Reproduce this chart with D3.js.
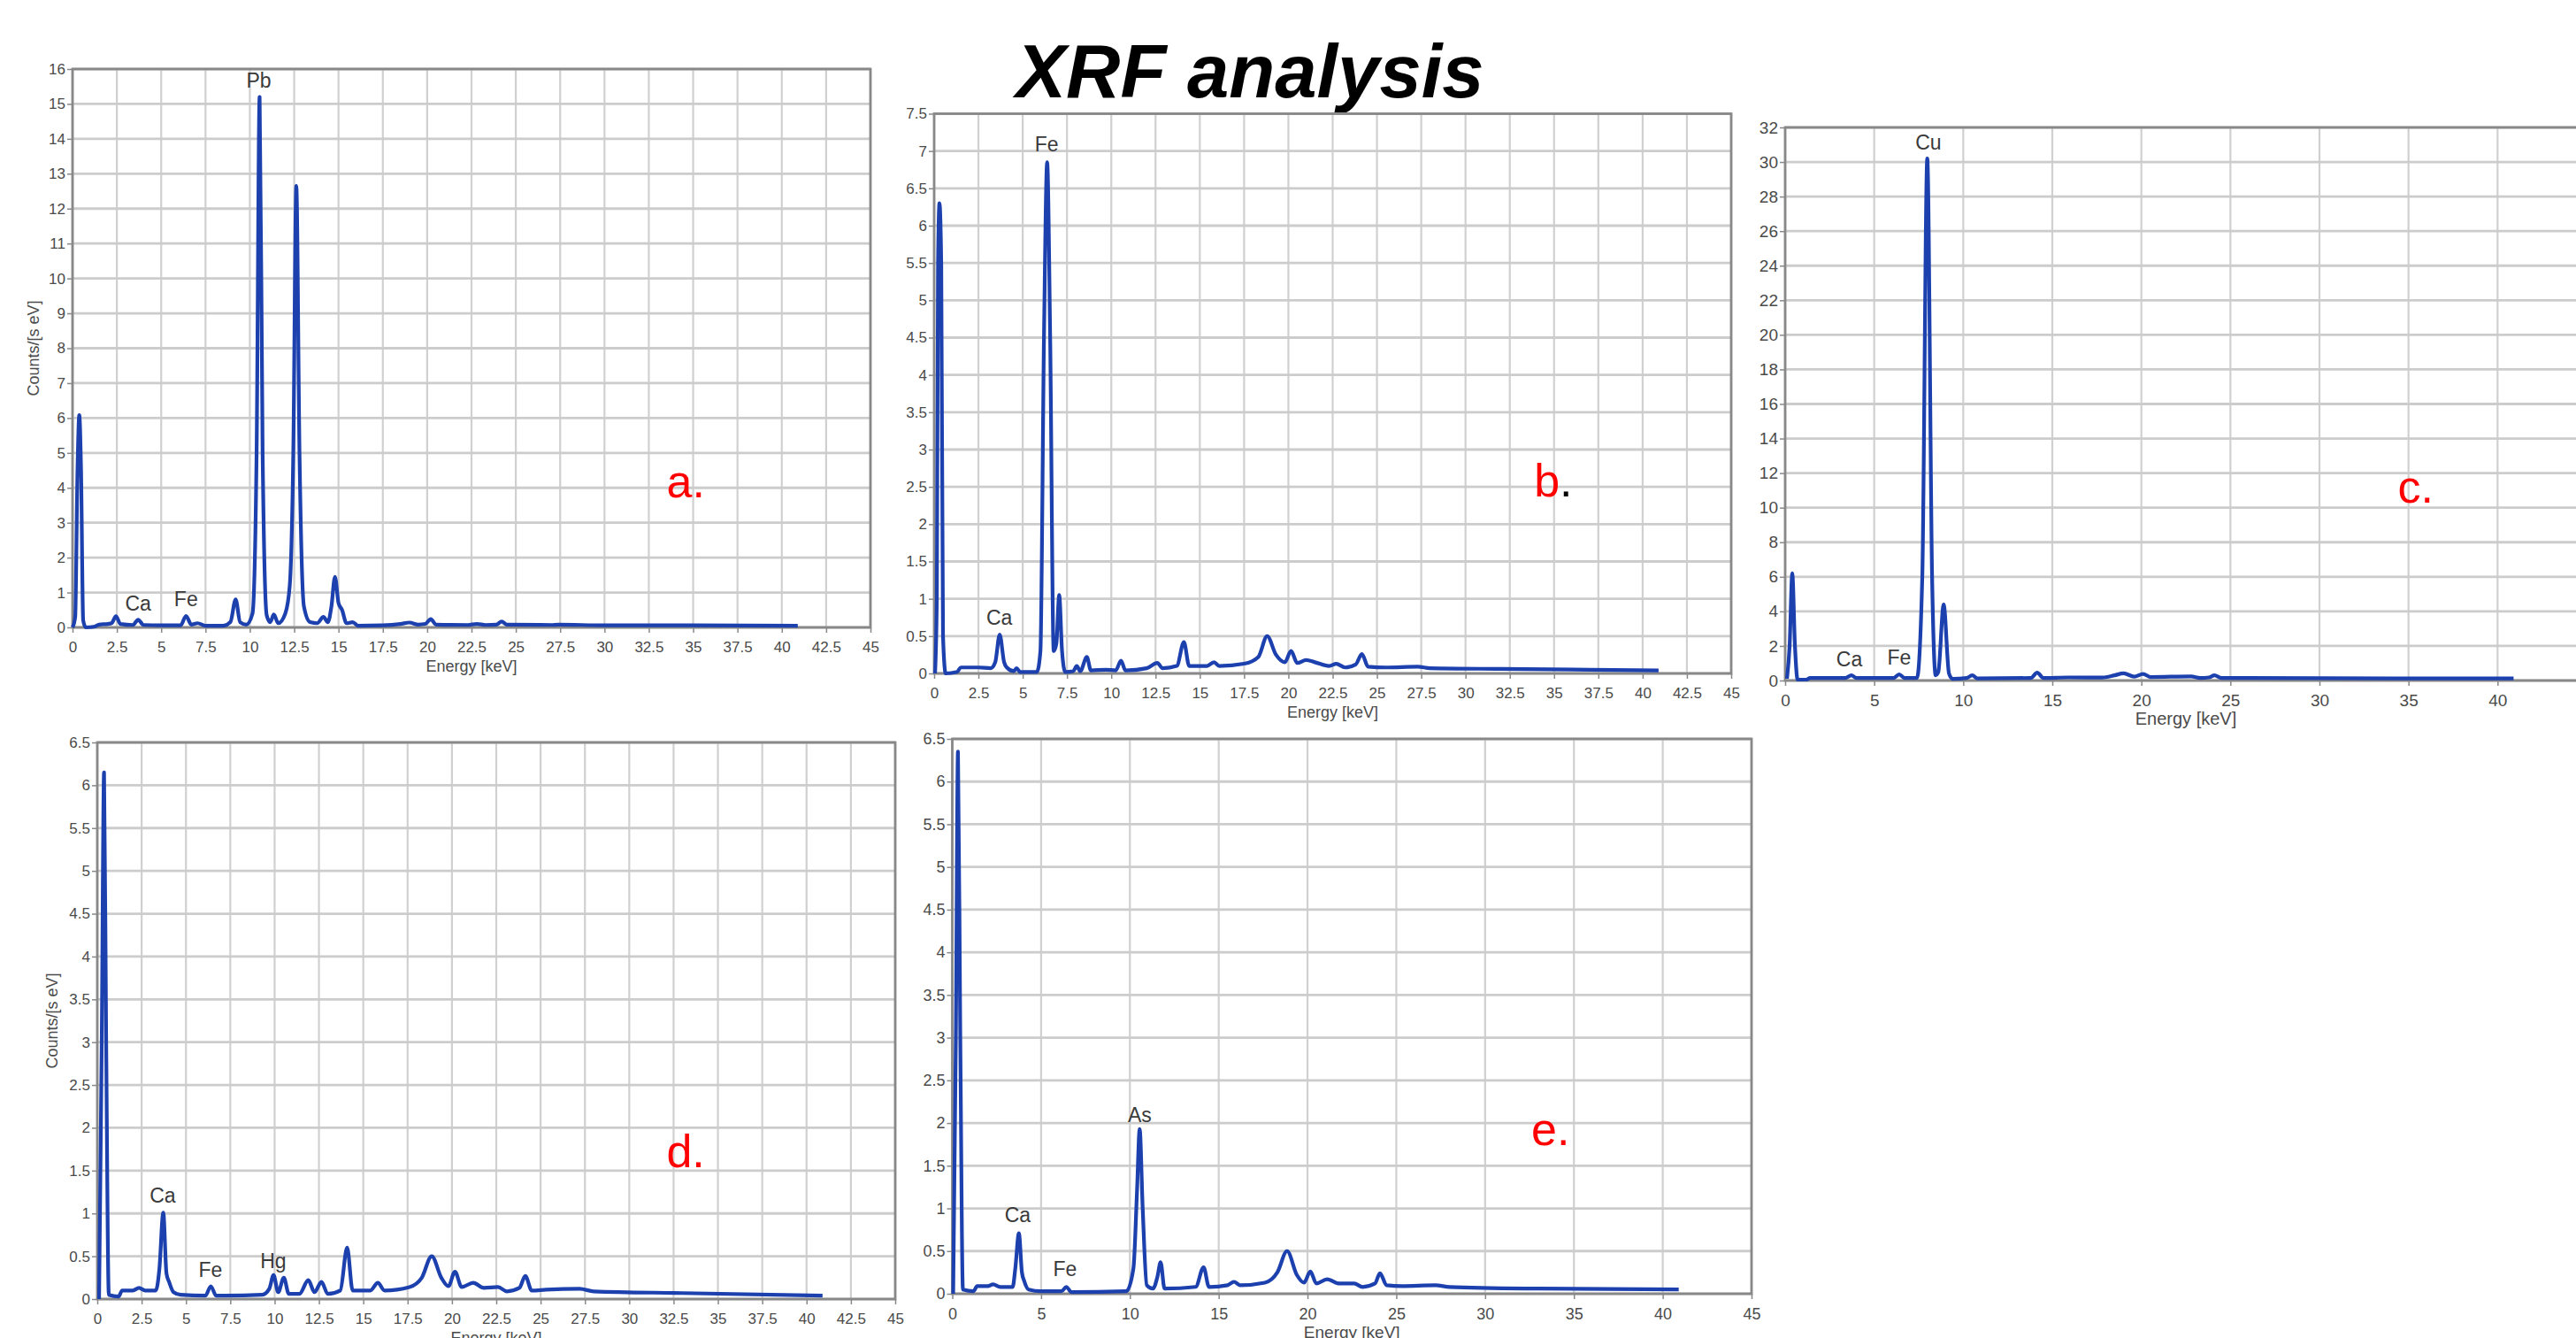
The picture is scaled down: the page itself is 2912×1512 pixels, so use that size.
<!DOCTYPE html>
<html>
<head>
<meta charset="utf-8">
<script src="https://cdnjs.cloudflare.com/ajax/libs/d3/7.8.5/d3.min.js"></script>
<style>
  html, body { margin: 0; padding: 0; background: #fff; }
  svg { display: block; }
  text { font-family: "Liberation Sans", Arial, sans-serif; }
</style>
</head>
<body>
<svg id="chart" width="2912" height="1512"></svg>
<script>
// tick values
const xTicksFine = [0, 2.5, 5, 7.5, 10, 12.5, 15, 17.5, 20, 22.5, 25, 27.5, 30, 32.5, 35, 37.5, 40, 42.5, 45];
const xTicksCoarse = [0, 5, 10, 15, 20, 25, 30, 35, 40, 45];
const yTicksA = [0, 1, 2, 3, 4, 5, 6, 7, 8, 9, 10, 11, 12, 13, 14, 15, 16];
const yTicksB = [0, 0.5, 1, 1.5, 2, 2.5, 3, 3.5, 4, 4.5, 5, 5.5, 6, 6.5, 7, 7.5];
const yTicksC = [0, 2, 4, 6, 8, 10, 12, 14, 16, 18, 20, 22, 24, 26, 28, 30, 32];
const yTicksDE = [0, 0.5, 1, 1.5, 2, 2.5, 3, 3.5, 4, 4.5, 5, 5.5, 6, 6.5];

// spectra, [energy keV, counts/(s eV)]
const spectrumA = [
  [0.0, 0], [0.15, 0.3], [0.28, 4.5], [0.38, 6.08], [0.48, 4.5], [0.6, 0.2], [0.75, 0], [1.2, 0.02],
  [1.5, 0.08], [2.0, 0.1], [2.2, 0.12], [2.45, 0.32], [2.7, 0.1], [3.4, 0.07], [3.7, 0.22], [4.0, 0.07],
  [5.0, 0.06], [6.1, 0.06], [6.4, 0.33], [6.7, 0.08], [7.05, 0.12], [7.5, 0.05], [8.5, 0.05],
  [8.9, 0.15], [9.2, 0.8], [9.45, 0.15], [9.8, 0.08], [10.15, 0.4], [10.38, 5], [10.55, 15.2],
  [10.72, 5], [10.95, 0.35], [11.15, 0.15], [11.35, 0.37], [11.6, 0.12], [12.0, 0.4], [12.25, 1.2],
  [12.45, 5], [12.62, 12.65], [12.8, 5], [13.05, 0.6], [13.4, 0.15], [13.8, 0.12], [14.15, 0.3],
  [14.4, 0.15], [14.6, 0.6], [14.8, 1.45], [15.0, 0.7], [15.2, 0.5], [15.45, 0.12], [15.8, 0.15],
  [16.1, 0.05], [17.5, 0.06], [18.5, 0.1], [19.0, 0.14], [19.5, 0.08], [19.9, 0.1], [20.2, 0.24],
  [20.5, 0.08], [22.3, 0.07], [22.8, 0.1], [23.3, 0.07], [23.9, 0.08], [24.2, 0.17], [24.5, 0.08],
  [27.0, 0.07], [27.4, 0.08], [30, 0.06], [35, 0.06], [40.9, 0.05]
];
const spectrumB = [
  [0.05, 0], [0.15, 1], [0.22, 5.5], [0.3, 6.3], [0.4, 5.5], [0.5, 0.5], [0.65, 0], [1.3, 0.02],
  [1.5, 0.08], [2.5, 0.08], [3.2, 0.07], [3.45, 0.15], [3.7, 0.52], [3.95, 0.15], [4.1, 0.08],
  [4.5, 0.03], [4.65, 0.07], [4.85, 0.02], [5.8, 0.02], [6.0, 0.3], [6.2, 4.5], [6.38, 6.85],
  [6.55, 4.5], [6.75, 0.3], [6.9, 0.4], [7.06, 1.05], [7.22, 0.3], [7.4, 0.02], [7.85, 0.03],
  [8.05, 0.1], [8.25, 0.03], [8.62, 0.22], [8.85, 0.04], [9.7, 0.05], [10.25, 0.04], [10.55, 0.17],
  [10.8, 0.04], [12.0, 0.07], [12.6, 0.14], [12.9, 0.07], [13.7, 0.1], [14.1, 0.42], [14.4, 0.1],
  [15.4, 0.1], [15.8, 0.15], [16.1, 0.1], [17.5, 0.13], [18.3, 0.22], [18.8, 0.5], [19.3, 0.25],
  [19.8, 0.15], [20.15, 0.3], [20.5, 0.14], [21.0, 0.18], [21.5, 0.15], [22.3, 0.1], [22.7, 0.13],
  [23.2, 0.08], [23.8, 0.12], [24.15, 0.26], [24.5, 0.09], [25.5, 0.08], [27.3, 0.09], [28, 0.07],
  [32, 0.06], [37, 0.05], [40.9, 0.04]
];
const spectrumC = [
  [0.1, 0.1], [0.25, 2], [0.4, 6.2], [0.55, 2], [0.7, 0.05], [1.2, 0.05], [1.4, 0.15], [3.4, 0.15],
  [3.72, 0.3], [4.0, 0.15], [6.1, 0.15], [6.4, 0.35], [6.7, 0.15], [7.4, 0.15], [7.7, 6],
  [7.98, 30.2], [8.25, 6], [8.45, 0.3], [8.6, 0.5], [8.9, 4.4], [9.2, 0.4], [9.4, 0.1], [10.2, 0.15],
  [10.5, 0.3], [10.8, 0.12], [13.8, 0.15], [14.15, 0.45], [14.5, 0.15], [15.9, 0.18], [17.8, 0.17],
  [18.5, 0.3], [19.0, 0.42], [19.6, 0.22], [20.1, 0.38], [20.5, 0.2], [22.8, 0.24], [23.3, 0.15],
  [23.8, 0.18], [24.1, 0.3], [24.5, 0.15], [30, 0.13], [40.9, 0.12]
];
const spectrumD = [
  [0.1, 0], [0.25, 3], [0.38, 6.15], [0.5, 3], [0.65, 0.05], [1.2, 0.03], [1.4, 0.1], [2.0, 0.1],
  [2.35, 0.13], [2.7, 0.1], [3.3, 0.1], [3.5, 0.35], [3.72, 1.01], [3.9, 0.3], [4.05, 0.2],
  [4.3, 0.08], [4.7, 0.05], [6.1, 0.04], [6.4, 0.15], [6.7, 0.04], [9.3, 0.05], [9.7, 0.12],
  [9.94, 0.28], [10.2, 0.08], [10.52, 0.25], [10.8, 0.06], [11.4, 0.06], [11.9, 0.22], [12.25, 0.08],
  [12.64, 0.2], [13.0, 0.06], [13.7, 0.1], [14.09, 0.6], [14.4, 0.1], [15.4, 0.1], [15.82, 0.19],
  [16.2, 0.1], [17.6, 0.14], [18.3, 0.25], [18.86, 0.5], [19.4, 0.25], [19.8, 0.15], [20.17, 0.32],
  [20.55, 0.14], [21.2, 0.19], [21.8, 0.13], [22.6, 0.14], [23.1, 0.09], [23.8, 0.13], [24.14, 0.27],
  [24.5, 0.1], [25.3, 0.11], [27.2, 0.12], [28.0, 0.09], [33, 0.07], [40.9, 0.04]
];
const spectrumE = [
  [0.05, 0], [0.2, 3], [0.32, 6.35], [0.45, 3], [0.6, 0.05], [1.2, 0.03], [1.4, 0.09], [2.0, 0.09],
  [2.3, 0.11], [2.7, 0.08], [3.4, 0.08], [3.55, 0.3], [3.75, 0.71], [3.92, 0.25], [4.05, 0.15],
  [4.3, 0.05], [5.0, 0.03], [6.15, 0.03], [6.42, 0.08], [6.7, 0.02], [9.8, 0.03], [10.2, 0.3],
  [10.4, 1.2], [10.55, 1.93], [10.72, 1.0], [10.95, 0.1], [11.3, 0.06], [11.55, 0.2], [11.73, 0.37],
  [11.95, 0.06], [13.7, 0.08], [14.15, 0.31], [14.45, 0.08], [15.5, 0.1], [15.86, 0.14], [16.2, 0.1],
  [17.6, 0.13], [18.3, 0.25], [18.85, 0.5], [19.4, 0.22], [19.8, 0.13], [20.16, 0.26], [20.5, 0.12],
  [21.1, 0.17], [21.8, 0.12], [22.63, 0.12], [23.1, 0.08], [23.8, 0.12], [24.08, 0.24], [24.45, 0.1],
  [25.3, 0.09], [27.2, 0.1], [28, 0.08], [33, 0.06], [40.9, 0.05]
];

// element labels: [name, energy, counts]
const peaksA = [['Pb', 10.5, 15.48], ['Ca', 3.7, 0.48], ['Fe', 6.4, 0.61]];
const peaksB = [['Fe', 6.35, 7.0], ['Ca', 3.68, 0.65]];
const peaksC = [['Cu', 8.04, 30.7], ['Ca', 3.6, 0.83], ['Fe', 6.4, 0.92]];
const peaksD = [['Ca', 3.69, 1.13], ['Fe', 6.38, 0.26], ['Hg', 9.92, 0.36]];
const peaksE = [['Ca', 3.68, 0.84], ['Fe', 6.35, 0.21], ['As', 10.55, 2.01]];

const svg = d3.select('#chart');

svg.append('text')
  .attr('x', 1413).attr('y', 110)
  .attr('text-anchor', 'middle')
  .attr('font-size', 85)
  .attr('font-weight', 'bold')
  .attr('font-style', 'italic')
  .attr('fill', '#000')
  .text('XRF analysis');

const panels = [
  { id: 'a', left: 82, right: 984, top: 78, bottom: 709, yMax: 16, xTicks: xTicksFine, yTicks: yTicksA,
    data: spectrumA, peaks: peaksA, letter: 'a', letterAt: [33.5, 3.73], font: 16, titleX: 44, clipX: null },
  { id: 'b', left: 1056, right: 1957, top: 128.5, bottom: 761, yMax: 7.5, xTicks: xTicksFine, yTicks: yTicksB,
    data: spectrumB, peaks: peaksB, letter: 'b', letterAt: [33.87, 2.37], font: 16, titleX: 1016, clipX: 1005 },
  { id: 'c', left: 2018, right: 2924, top: 144, bottom: 769, yMax: 32, xTicks: xTicksCoarse, yTicks: yTicksC,
    data: spectrumC, peaks: peaksC, letter: 'c', letterAt: [34.4, 10.3], font: 18, titleX: 1983, clipX: 1972 },
  { id: 'd', left: 110, right: 1012, top: 839, bottom: 1468, yMax: 6.5, xTicks: xTicksFine, yTicks: yTicksDE,
    data: spectrumD, peaks: peaksD, letter: 'd', letterAt: [32.1, 1.54], font: 16, titleX: 65, clipX: null },
  { id: 'e', left: 1076.5, right: 1980, top: 835, bottom: 1462, yMax: 6.5, xTicks: xTicksCoarse, yTicks: yTicksDE,
    data: spectrumE, peaks: peaksE, letter: 'e', letterAt: [32.6, 1.74], font: 17, titleX: 1036, clipX: 1025 }
];

const defs = svg.append('defs');

function drawPanel(p) {
  const x = d3.scaleLinear().domain([0, 45]).range([p.left, p.right]);
  const y = d3.scaleLinear().domain([0, p.yMax]).range([p.bottom, p.top]);
  const g = svg.append('g').attr('class', 'panel-' + p.id);

  // grid
  g.append('g').selectAll('line')
    .data(p.xTicks)
    .enter().append('line')
    .attr('x1', d => x(d)).attr('x2', d => x(d))
    .attr('y1', p.top).attr('y2', p.bottom)
    .attr('stroke', '#d0d0d0').attr('stroke-width', 2.2);
  g.append('g').selectAll('line')
    .data(p.yTicks)
    .enter().append('line')
    .attr('x1', p.left).attr('x2', p.right)
    .attr('y1', d => y(d)).attr('y2', d => y(d))
    .attr('stroke', '#cccccc').attr('stroke-width', 2.8);

  // axes
  const xAxis = g.append('g')
    .attr('transform', `translate(0,${p.bottom})`)
    .call(d3.axisBottom(x).tickValues(p.xTicks).tickSize(6).tickPadding(10).tickFormat(d => String(d)));
  const yAxis = g.append('g')
    .attr('transform', `translate(${p.left},0)`)
    .call(d3.axisLeft(y).tickValues(p.yTicks).tickSize(6).tickPadding(2).tickFormat(d => String(d)));
  [xAxis, yAxis].forEach(a => {
    a.select('.domain').remove();
    a.selectAll('line').attr('stroke', '#888').attr('stroke-width', 1.5);
    a.selectAll('text')
      .attr('fill', '#4a4a4a')
      .attr('font-size', p.font + 1)
      .attr('font-family', '"Liberation Sans", Arial, sans-serif');
  });

  // frame
  g.append('rect')
    .attr('x', p.left).attr('y', p.top)
    .attr('width', p.right - p.left).attr('height', p.bottom - p.top)
    .attr('fill', 'none').attr('stroke', '#888888').attr('stroke-width', 2.8);

  // axis titles
  g.append('text')
    .attr('x', (p.left + p.right) / 2).attr('y', p.bottom + 50)
    .attr('text-anchor', 'middle')
    .attr('font-size', p.font + 2)
    .attr('fill', '#4a4a4a')
    .text('Energy [keV]');

  const yTitle = g.append('text')
    .attr('transform', `translate(${p.titleX},${(p.top + p.bottom) / 2}) rotate(-90)`)
    .attr('text-anchor', 'middle')
    .attr('font-size', p.font + 2)
    .attr('fill', '#4a4a4a')
    .text('Counts/[s eV]');
  if (p.clipX !== null) {
    defs.append('clipPath').attr('id', 'clip-' + p.id)
      .append('rect')
      .attr('x', p.clipX).attr('y', 0)
      .attr('width', 200).attr('height', 1512);
    yTitle.attr('clip-path', `url(#clip-${p.id})`);
  }

  // spectrum
  const line = d3.line()
    .x(d => x(d[0]))
    .y(d => y(d[1]))
    .curve(d3.curveMonotoneX);
  g.append('path')
    .datum(p.data)
    .attr('d', line)
    .attr('fill', 'none')
    .attr('stroke', '#1c40ae')
    .attr('stroke-width', 4.2)
    .attr('stroke-linejoin', 'round');

  // element labels
  g.selectAll('.peak')
    .data(p.peaks)
    .enter().append('text')
    .attr('class', 'peak')
    .attr('x', d => x(d[1]))
    .attr('y', d => y(d[2]))
    .attr('text-anchor', 'middle')
    .attr('font-size', 23)
    .attr('fill', '#3a3a3a')
    .text(d => d[0]);

  // panel letter
  const letter = g.append('text')
    .attr('x', x(p.letterAt[0]))
    .attr('y', y(p.letterAt[1]))
    .attr('font-size', 52);
  letter.append('tspan').attr('fill', '#ff0000').text(p.letter);
  letter.append('tspan').attr('fill', p.id === 'b' ? '#000' : '#ff0000').text('.');
}

panels.forEach(drawPanel);
</script>
</body>
</html>
